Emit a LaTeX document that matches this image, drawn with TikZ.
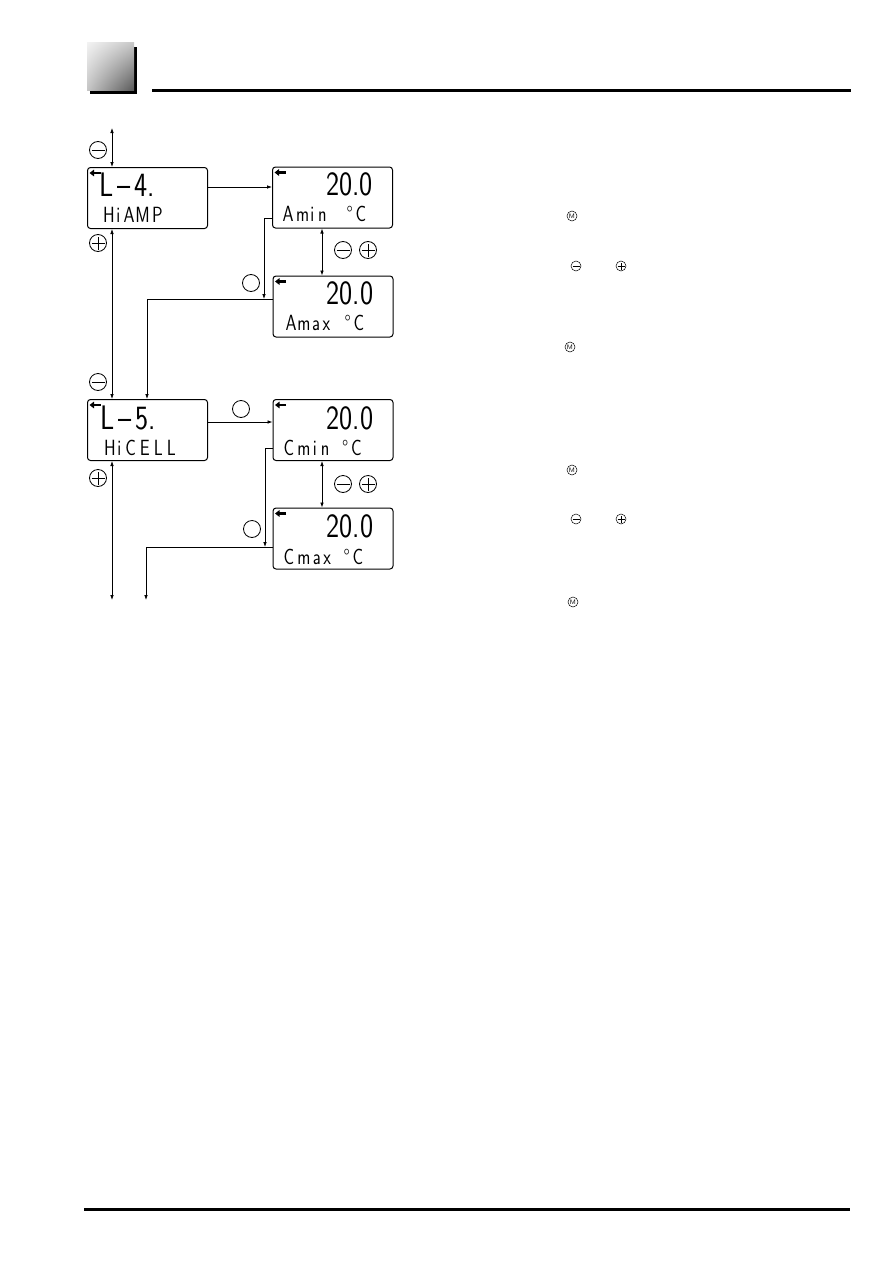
\documentclass[tikz,border=0pt]{standalone}
\usepackage{fontspec}
\usetikzlibrary{arrows.meta,calc,shadings}
\tikzset{
  lcd/.style={draw, line width=1pt, rounded corners=3pt, minimum width=120pt, minimum height=61pt, inner sep=0pt},
  conn/.style={line width=0.8pt},
  tip/.style={-{Latex[length=5pt,width=3.6pt]}},
  dtip/.style={{Latex[length=5pt,width=3.6pt]}-{Latex[length=5pt,width=3.6pt]}},
  btn/.style={circle, draw, line width=0.8pt, minimum size=17pt, inner sep=0pt},
  btnminus/.style={btn, path picture={\draw[line width=0.8pt] ([xshift=-6.5pt]path picture bounding box.center) -- ([xshift=6.5pt]path picture bounding box.center);}},
  btnplus/.style={btn, path picture={\draw[line width=0.8pt] ([xshift=-6.5pt]path picture bounding box.center) -- ([xshift=6.5pt]path picture bounding box.center) ([yshift=-6.5pt]path picture bounding box.center) -- ([yshift=6.5pt]path picture bounding box.center);}},
  sbtn/.style={circle, draw, line width=0.5pt, minimum size=10pt, inner sep=0pt, font=\sffamily\fontsize{6.5}{6.5}\selectfont},
  sminus/.style={sbtn, path picture={\draw[line width=0.5pt] ([xshift=-3.5pt]path picture bounding box.center) -- ([xshift=3.5pt]path picture bounding box.center);}},
  splus/.style={sbtn, path picture={\draw[line width=0.5pt] ([xshift=-3.5pt]path picture bounding box.center) -- ([xshift=3.5pt]path picture bounding box.center) ([yshift=-3.5pt]path picture bounding box.center) -- ([yshift=3.5pt]path picture bounding box.center);}},
  bigtxt/.style={font=\sffamily\fontsize{34}{34}\selectfont, xscale=0.82, inner sep=0pt},
  lowtxt/.style={font=\sffamily\fontsize{22}{22}\selectfont, xscale=0.8, inner sep=0pt},
  backarrow/.style={line width=2.4pt, -{Triangle[length=4.5pt,width=6.5pt]}},
}
\begin{document}
\begin{tikzpicture}[x=1pt,y=-1pt]
\useasboundingbox[fill=white] (0,0) rectangle (893,1263);
% header
\fill[black] (90,47) rectangle (137,94);
\shade[upper left=gray!10, lower right=gray!70!black, upper right=gray!45, lower left=gray!45] (87,43) rectangle (134,90);
\fill[black] (152,88.5) rectangle (851,91.5);
\fill[black] (84,1207.5) rectangle (850,1210.5);

% LCD boxes
\node[lcd] (b1) at (147.5,198) {};
\node[lcd] (b2) at (332.5,197.5) {};
\node[lcd] (b3) at (333,306.5) {};
\node[lcd] (b4) at (147.5,430) {};
\node[lcd] (b5) at (333,430) {};
\node[lcd] (b6) at (333,538.5) {};

% back arrows
\foreach \b in {b1,b2,b3,b4,b5,b6}
  \draw[backarrow] ($(\b.north west)+(13.5,6)$) -- ($(\b.north west)+(2.5,6)$);

% LCD texts
\node[bigtxt, anchor=base west] (t1a) at ($(b1.north west)+(12,29)$) {L\kern5pt–\kern5pt4.};
\node[lowtxt, anchor=base west] (t1b) at ($(b1.north west)+(16,55)$) {H\kern2pt i\kern4pt A\kern1pt M\kern3pt P};
\node[bigtxt, anchor=base east] (t2a) at ($(b2.north east)+(-20,29)$) {20.0};
\node[lowtxt, anchor=base west] (t2b) at ($(b2.north west)+(10.5,55)$) {A\kern3pt m\kern1.6pt i\kern4.7pt n\kern25pt °\kern3.5pt C};
\node[bigtxt, anchor=base east] (t3a) at ($(b3.north east)+(-20,29)$) {20.0};
\node[lowtxt, anchor=base west] (t3b) at ($(b3.north west)+(13,55)$) {A\kern1pt m\kern2pt a\kern3pt x\kern18pt °\kern3.5pt C};
\node[bigtxt, anchor=base west] (t4a) at ($(b4.north west)+(13,30)$) {L\kern5pt–\kern5pt5.};
\node[lowtxt, anchor=base west] (t4b) at ($(b4.north west)+(17,56)$) {H\kern2pt i\kern5pt C\kern5pt E\kern5pt L\kern5pt L};
\node[bigtxt, anchor=base east] (t5a) at ($(b5.north east)+(-20,30)$) {20.0};
\node[lowtxt, anchor=base west] (t5b) at ($(b5.north west)+(11,56)$) {C\kern4pt m\kern3pt i\kern5pt n\kern16pt °\kern3.5pt C};
\node[bigtxt, anchor=base east] (t6a) at ($(b6.north east)+(-20,30)$) {20.0};
\node[lowtxt, anchor=base west] (t6b) at ($(b6.north west)+(11,57)$) {C\kern4pt m\kern3pt a\kern3pt x\kern16pt °\kern3.5pt C};

% connectors
\coordinate (top) at (112,128);
\coordinate (bot) at (112,600);
\draw[conn,dtip] (top) -- (top |- b1.north);
\draw[conn,dtip] (b1.south -| top) -- (b4.north -| top);
\draw[conn,dtip] (b4.south -| bot) -- (bot);

\draw[conn,tip] (b1.east |- 0,187) -- (b2.west |- 0,187);
\coordinate (j1) at (264,299);
\coordinate (k1) at (147,299);
\draw[conn,tip] (b2.west |- 0,218) -| (j1);
\draw[conn,tip] (b3.west |- j1) -- (k1) -- (k1 |- b4.north);
\draw[conn,dtip] (b2.south -| 322,0) -- (b3.north -| 322,0);

\draw[conn,tip] (b4.east |- 0,422) -- (b5.west |- 0,422);
\coordinate (j2) at (265,547);
\coordinate (k2) at (146,547);
\coordinate (k3) at (146,600);
\draw[conn,tip] (b5.west |- 0,448) -| (j2);
\draw[conn,tip] (b6.west |- j2) -- (k2) -- (k3);
\draw[conn,dtip] (b5.south -| 322,0) -- (b6.north -| 322,0);

% buttons
\node[btnminus] (c1) at (98,150) {};
\node[btnplus]  (c2) at (98,243) {};
\node[btnminus] (c3) at (98,382) {};
\node[btnplus]  (c4) at (98,478) {};
\node[btnminus] (c5) at (343,250) {};
\node[btnplus]  (c6) at (368,250) {};
\node[btnminus] (c7) at (343,484) {};
\node[btnplus]  (c8) at (368,484) {};
\node[btn] (e1) at (251,283) {};
\node[btn] (e2) at (241,409) {};
\node[btn] (e3) at (252,529) {};

% right column symbols
\node[sbtn] (r1) at (572,216) {M};
\node[sminus] (r2) at (576,266) {};
\node[splus] (r3) at (621,266) {};
\node[sbtn] (r4) at (570,347) {M};
\node[sbtn] (r5) at (572,470) {M};
\node[sminus] (r6) at (576,519) {};
\node[splus] (r7) at (621,519) {};
\node[sbtn] (r8) at (573,602) {M};
\end{tikzpicture}
\end{document}
